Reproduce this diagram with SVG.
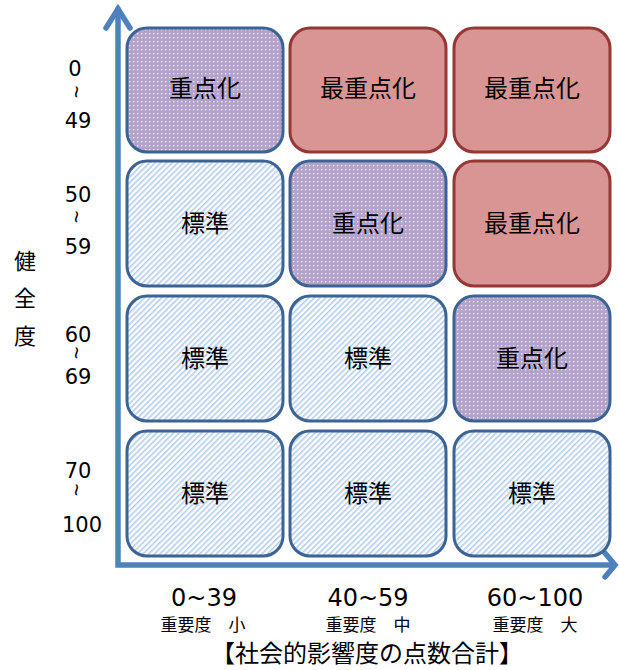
<svg xmlns="http://www.w3.org/2000/svg" width="619" height="670" viewBox="0 0 619 670">
<defs>
<pattern id="hatch" width="4" height="4" patternUnits="userSpaceOnUse" patternTransform="rotate(45)">
<rect width="4" height="4" fill="#ffffff"/>
<rect width="1.6" height="4" fill="#b4cdec"/>
</pattern>
<pattern id="dots" width="4" height="4" patternUnits="userSpaceOnUse">
<rect width="4" height="4" fill="#b3a3ca"/>
<rect x="1" y="1" width="1.4" height="1.4" fill="#eae4f2"/>
</pattern>
<style>
.std{fill:url(#hatch);stroke:#3b6494;stroke-width:3}
.imp{fill:url(#dots);stroke:#3b6494;stroke-width:3}
.top{fill:#d99594;stroke:#953735;stroke-width:3}
.lbl{font-family:"Noto Sans CJK JP","DejaVu Sans",sans-serif;font-size:24px;fill:#000;text-anchor:middle}
.num{font-family:"DejaVu Sans","Noto Sans CJK JP",sans-serif;font-size:21px;fill:#000;text-anchor:middle}
.til{font-family:"Liberation Sans",sans-serif;font-size:22px;fill:#000;text-anchor:middle}
.bnum{font-family:"DejaVu Sans","Noto Sans CJK JP",sans-serif;font-size:24px;fill:#000;text-anchor:middle}
.sub{font-family:"Noto Sans CJK JP",sans-serif;font-size:17px;fill:#000;text-anchor:middle}
.ttl{font-family:"Noto Sans CJK JP",sans-serif;font-size:24px;fill:#000;text-anchor:middle}
.axis{fill:none;stroke:#4f81bd;stroke-width:5.5;stroke-linecap:round;stroke-linejoin:miter}
</style>
</defs>

<g id="connectors">
<polyline class="axis" points="118,9 118,565 613,565"/>
<polyline class="axis" points="106,28 118,9 130,28"/>
<polyline class="axis" points="605,553 615,565 605,577"/>
</g>

<g id="n11"><rect class="imp" x="127" y="28" width="156" height="124" rx="20"/><text class="lbl" x="205" y="97">重点化</text></g>
<g id="n12"><rect class="top" x="290" y="28" width="156" height="124" rx="20"/><text class="lbl" x="368" y="97">最重点化</text></g>
<g id="n13"><rect class="top" x="454" y="28" width="156" height="124" rx="20"/><text class="lbl" x="532" y="97">最重点化</text></g>

<g id="n21"><rect class="std" x="127" y="161" width="156" height="125" rx="20"/><text class="lbl" x="205" y="232">標準</text></g>
<g id="n22"><rect class="imp" x="290" y="161" width="156" height="125" rx="20"/><text class="lbl" x="368" y="232">重点化</text></g>
<g id="n23"><rect class="top" x="454" y="161" width="156" height="125" rx="20"/><text class="lbl" x="532" y="232">最重点化</text></g>

<g id="n31"><rect class="std" x="127" y="296" width="156" height="125" rx="20"/><text class="lbl" x="205" y="367">標準</text></g>
<g id="n32"><rect class="std" x="290" y="296" width="156" height="125" rx="20"/><text class="lbl" x="368" y="367">標準</text></g>
<g id="n33"><rect class="imp" x="454" y="296" width="156" height="125" rx="20"/><text class="lbl" x="532" y="367">重点化</text></g>

<g id="n41"><rect class="std" x="127" y="431" width="156" height="125" rx="20"/><text class="lbl" x="205" y="502">標準</text></g>
<g id="n42"><rect class="std" x="290" y="431" width="156" height="125" rx="20"/><text class="lbl" x="368" y="502">標準</text></g>
<g id="n43"><rect class="std" x="454" y="431" width="156" height="125" rx="20"/><text class="lbl" x="532" y="502">標準</text></g>

<g id="yaxis-labels">
<text class="num" x="75" y="76">0</text>
<text class="til" x="0" y="7" transform="translate(76,92) rotate(90)">~</text>
<text class="num" x="78" y="128">49</text>
<text class="num" x="78" y="202">50</text>
<text class="til" x="0" y="7" transform="translate(76,217) rotate(90)">~</text>
<text class="num" x="78" y="254">59</text>
<text class="num" x="78" y="342">60</text>
<text class="til" x="0" y="7" transform="translate(76,353) rotate(90)">~</text>
<text class="num" x="78" y="384">69</text>
<text class="num" x="78" y="478">70</text>
<text class="til" x="0" y="7" transform="translate(76,490) rotate(90)">~</text>
<text class="num" x="82" y="532">100</text>
<text class="ttl" x="25" y="269" style="font-size:22px">健</text>
<text class="ttl" x="25" y="306" style="font-size:22px">全</text>
<text class="ttl" x="25" y="344" style="font-size:22px">度</text>
</g>

<g id="xaxis-labels">
<text class="bnum" x="204" y="606">0~39</text>
<text class="bnum" x="368" y="606">40~59</text>
<text class="bnum" x="535" y="606">60~100</text>
<text class="sub" x="203" y="631">重要度　小</text>
<text class="sub" x="368" y="631">重要度　中</text>
<text class="sub" x="535" y="631">重要度　大</text>
<text class="ttl" x="367" y="662">【社会的影響度の点数合計】</text>
</g>
</svg>
